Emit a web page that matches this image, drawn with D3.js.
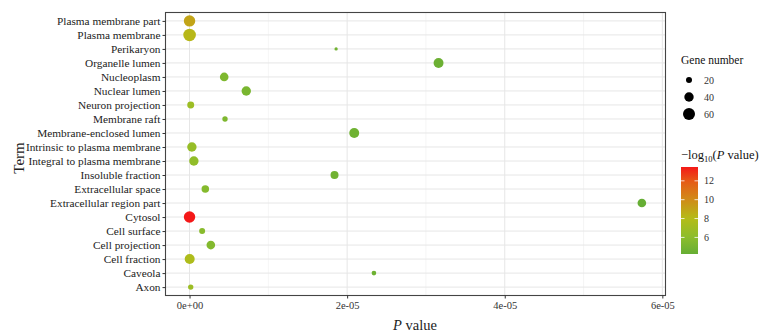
<!DOCTYPE html>
<html><head><meta charset="utf-8">
<script src="https://cdn.jsdelivr.net/npm/d3@7"></script>
<style>body{margin:0;background:#fff;} svg{display:block;font-family:"Liberation Serif","Times New Roman",serif;}</style>
</head><body>
<svg id="c" width="775" height="336"></svg>
<script>
const terms = ["Plasma membrane part","Plasma membrane","Perikaryon","Organelle lumen","Nucleoplasm","Nuclear lumen","Neuron projection","Membrane raft","Membrane-enclosed lumen","Intrinsic to plasma membrane","Integral to plasma membrane","Insoluble fraction","Extracellular space","Extracellular region part","Cytosol","Cell surface","Cell projection","Cell fraction","Caveola","Axon"];
const pValues = [1e-9,6e-9,1.86e-5,3.16e-5,4.4e-6,7.2e-6,1.5e-7,4.5e-6,2.09e-5,3e-7,5.5e-7,1.84e-5,2.0e-6,5.74e-5,3.4e-14,1.6e-6,2.7e-6,2e-8,2.34e-5,1.5e-7];
const geneNumbers = [55,65,9,44,35,40,25,17,44,40,40,31,28,35,55,20,35,44,14,17];
const xTicks = [0,2e-5,4e-5,6e-5];
const xTickLabels = ["0e+00","2e-05","4e-05","6e-05"];
const sizeBreaks = [20,40,60];
const colorBreaks = [6,8,10,12];

const svg = d3.select("#c");
const L=165.5,R=665.5,T=12.5,B=295.5;
const x = d3.scaleLinear().domain([-0.305e-5,6.04e-5]).range([L,R]);
const y = d3.scalePoint().domain(terms).range([T,B]).padding(0.6);
const r = d3.scalePow().exponent(0.5).domain([20,60]).range([3,6]);
const lp = pValues.map(p=>-Math.log10(p));
const cMin = d3.min(lp), cMax = d3.max(lp);
const color = d3.scaleLinear().domain([cMin,6,8,10,12,cMax])
  .range(["#66ae34","#8cbd2c","#b4bc18","#d08c18","#e65a16","#f41818"]).clamp(true);

// panel
svg.append("rect").attr("x",L).attr("y",T).attr("width",R-L).attr("height",B-T).attr("fill","#fff");
const minor=[1e-5,3e-5,5e-5];
svg.append("g").selectAll("line").data(minor).join("line")
 .attr("x1",d=>x(d)).attr("x2",d=>x(d)).attr("y1",T).attr("y2",B).attr("stroke","#f3f3f3").attr("stroke-width",0.8);
svg.append("g").selectAll("line").data(xTicks).join("line")
 .attr("x1",d=>x(d)).attr("x2",d=>x(d)).attr("y1",T).attr("y2",B).attr("stroke","#e6e6e6").attr("stroke-width",1);
svg.append("g").selectAll("line").data(terms).join("line")
 .attr("x1",L).attr("x2",R).attr("y1",d=>y(d)).attr("y2",d=>y(d)).attr("stroke","#e6e6e6").attr("stroke-width",1);

// points
svg.append("g").selectAll("circle").data(terms).join("circle")
 .attr("cx",(d,i)=>x(pValues[i])).attr("cy",d=>y(d)).attr("r",(d,i)=>r(geneNumbers[i]))
 .attr("fill",(d,i)=>color(lp[i]));

svg.append("rect").attr("x",L).attr("y",T).attr("width",R-L).attr("height",B-T).attr("fill","none").attr("stroke","#444").attr("stroke-width",1.1);

// axes
const xa = svg.append("g").attr("transform",`translate(0,${B})`)
 .call(d3.axisBottom(x).tickValues(xTicks).tickFormat((d,i)=>xTickLabels[i]).tickSize(3).tickPadding(3));
xa.attr("font-family","Liberation Serif");
xa.select(".domain").remove();
xa.selectAll("line").attr("stroke","#333");
xa.selectAll("text").attr("font-size",10.5).attr("fill","#333");
const ya = svg.append("g").attr("transform",`translate(${L},0)`)
 .call(d3.axisLeft(y).tickSize(3).tickPadding(2));
ya.attr("font-family","Liberation Serif");
ya.select(".domain").remove();
ya.selectAll("line").attr("stroke","#333");
ya.selectAll("text").attr("font-size",11.3).attr("fill","#222");

// axis titles
svg.append("text").attr("x",415).attr("y",330).attr("text-anchor","middle").attr("font-size",14.5).attr("fill","#222")
 .html('<tspan font-style="italic">P</tspan> value');
svg.append("text").attr("transform","translate(24,158) rotate(-90)").attr("text-anchor","middle").attr("font-size",15).attr("fill","#222").text("Term");

// size legend
const lx=681;
svg.append("text").attr("x",lx).attr("y",64).attr("font-size",11.5).attr("fill","#111").text("Gene number");
const sl = svg.append("g");
sizeBreaks.forEach((v,i)=>{
  const cy=80+i*17;
  sl.append("circle").attr("cx",689).attr("cy",cy).attr("r",r(v)).attr("fill","#000");
  sl.append("text").attr("x",704).attr("y",cy+3.5).attr("font-size",10).attr("fill","#333").text(v);
});

// color legend
svg.append("text").attr("x",lx).attr("y",159).attr("font-size",12.5).attr("fill","#111")
 .html('\u2212log<tspan font-size="8.5" dy="3">10</tspan><tspan dy="-3">(</tspan><tspan font-style="italic">P</tspan> value)');
const barTop=167, barBot=254, bx=681, bw=17;
const cy = d3.scaleLinear().domain([cMin,cMax]).range([barBot,barTop]);
const defs = svg.append("defs");
const grad = defs.append("linearGradient").attr("id","g").attr("x1",0).attr("x2",0).attr("y1",1).attr("y2",0);
d3.range(0,1.0001,0.05).forEach(t=>{
  grad.append("stop").attr("offset",t).attr("stop-color",color(cMin+t*(cMax-cMin)));
});
svg.append("rect").attr("x",bx).attr("y",barTop).attr("width",bw).attr("height",barBot-barTop).attr("fill","url(#g)");
colorBreaks.forEach(v=>{
  const yy=cy(v);
  svg.append("line").attr("x1",bx).attr("x2",bx+3.5).attr("y1",yy).attr("y2",yy).attr("stroke","#fff").attr("stroke-width",0.8);
  svg.append("line").attr("x1",bx+bw-3.5).attr("x2",bx+bw).attr("y1",yy).attr("y2",yy).attr("stroke","#fff").attr("stroke-width",0.8);
  svg.append("text").attr("x",704).attr("y",yy+3.5).attr("font-size",10).attr("fill","#333").text(v);
});
</script>
</body></html>
